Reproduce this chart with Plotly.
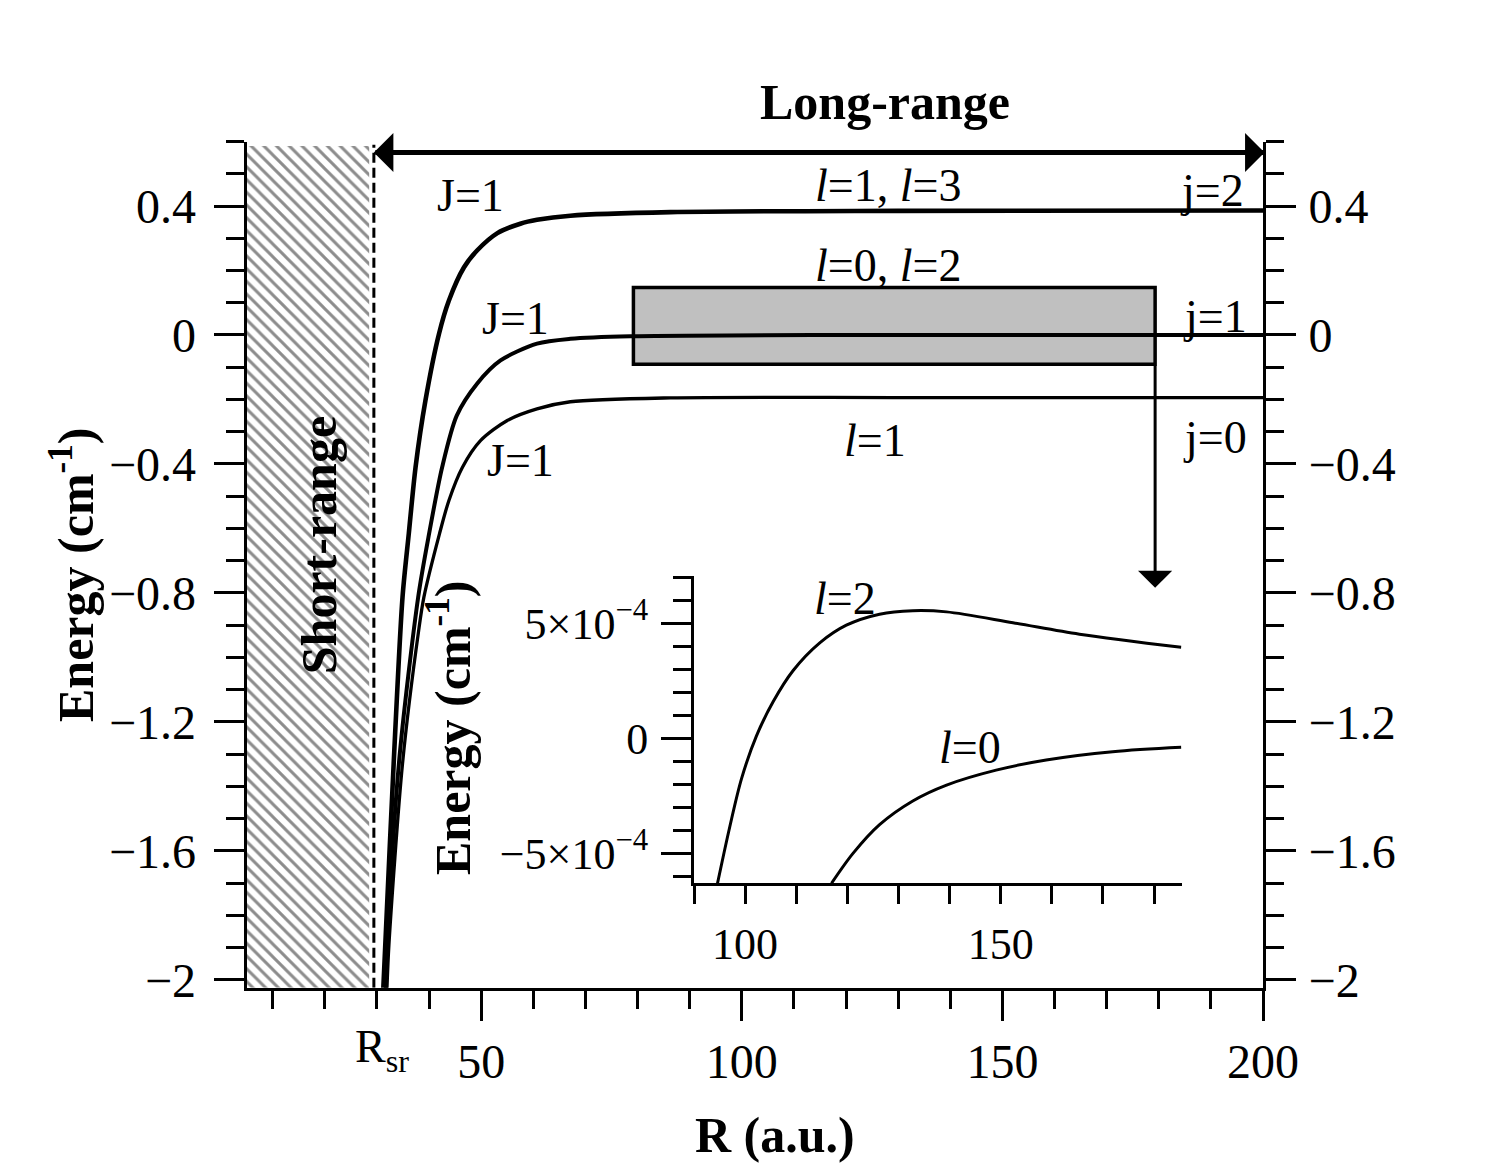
import plotly.graph_objects as go

FONT = "Liberation Serif"
W, H = 1500, 1163
OFF = 8  # the page body margin shifts the figure by this many pixels

# --- main panel: the three J=1 potential curves (R in a.u., energy in cm^-1)
r_j2 = [31.2, 31.6, 33.2, 34.9, 36.1, 37.4, 39.3, 41.9, 43.8, 46.7, 49.2, 53.1, 57.5, 60.7, 67.1, 86.3, 130, 200]
e_j2 = [-2.03, -1.888, -1.329, -0.813, -0.616, -0.410, -0.203, 0.004, 0.107, 0.210, 0.262, 0.316, 0.345, 0.357, 0.370, 0.381, 0.385, 0.386]

r_j1 = [31.7, 32.0, 34.2, 37.9, 40.0, 42.5, 45.3, 49.2, 53.7, 60.7, 67.1, 78.6, 120, 200]
e_j1 = [-2.03, -1.888, -1.329, -0.813, -0.616, -0.410, -0.250, -0.151, -0.079, -0.027, -0.012, -0.004, 0.0, 0.0]

r_j0 = [31.9, 32.3, 34.9, 38.0, 39.0, 42.0, 43.8, 46.4, 49.9, 55.0, 60.7, 67.1, 86.3, 130, 200]
e_j0 = [-2.03, -1.888, -1.329, -0.916, -0.813, -0.616, -0.513, -0.410, -0.327, -0.265, -0.229, -0.207, -0.195, -0.194, -0.194]

# --- inset: zoom on the j=1 threshold (energy in cm^-1)
r_l2 = [94.6, 97.0, 99.3, 102.2, 105.5, 109.4, 114.6, 119.8, 126.3, 132.8, 139.4, 152.4, 165.4, 185.3]
e_l2 = [-6.30e-4, -3.84e-4, -1.75e-4, 0.10e-4, 1.60e-4, 2.95e-4, 4.15e-4, 4.92e-4, 5.40e-4, 5.55e-4, 5.50e-4, 5.03e-4, 4.53e-4, 3.96e-4]

r_l0 = [116.9, 121.1, 126.3, 132.8, 139.4, 149.1, 158.9, 171.9, 185.3]
e_l0 = [-6.30e-4, -5.00e-4, -3.75e-4, -2.72e-4, -2.03e-4, -1.38e-4, -0.94e-4, -0.58e-4, -0.39e-4]

# region markers
r_sr = 29.4
short_range = [5, 28.5]
zoom_box_r = [79.2, 179.3]
zoom_box_e = [-0.091, 0.147]
arrow_e = 0.566
arrow_tip_e = -0.784

main_ticks = [-2, -1.6, -1.2, -0.8, -0.4, 0, 0.4]
main_ticktext = ["\u22122", "\u22121.6", "\u22121.2", "\u22120.8", "\u22120.4", "0", "0.4"]
x_ticks = [50, 100, 150, 200]
inset_yticks = [5e-4, 0, -5e-4]
inset_yticktext = ["5\u00d710<sup>\u22124</sup>", "0", "\u22125\u00d710<sup>\u22124</sup>"]
inset_xticks = [100, 150]

y_range = [-2.024, 0.6]


def px(x):
    return (x - OFF) / W


def py(y):
    return 1 - (y - OFF) / H


fig = go.Figure()

# hatched short-range region
fig.add_trace(go.Bar(
    x=[(short_range[0] + short_range[1]) / 2], y=[0.586 - y_range[0]], base=[y_range[0]],
    width=[short_range[1] - short_range[0]],
    marker=dict(color="white", line_width=0,
                pattern=dict(shape="\\", fgcolor="#8c8c8c", bgcolor="white", size=9, solidity=0.33)),
    xaxis="x", yaxis="y", showlegend=False, hoverinfo="skip"
))

for r, e, w in [(r_j2, e_j2, 4.6), (r_j1, e_j1, 4.0), (r_j0, e_j0, 3.3)]:
    fig.add_trace(go.Scatter(x=r, y=e, mode="lines", line=dict(color="black", width=w, shape="spline", smoothing=0.8),
                             xaxis="x", yaxis="y", showlegend=False))

# dummy trace so the right-hand axis is drawn
fig.add_trace(go.Scatter(x=[100], y=[0], mode="markers", marker=dict(opacity=0), xaxis="x", yaxis="y2",
                         showlegend=False, hoverinfo="skip"))

for r, e in [(r_l2, e_l2), (r_l0, e_l0)]:
    fig.add_trace(go.Scatter(x=r, y=e, mode="lines", line=dict(color="black", width=3, shape="spline", smoothing=0.9),
                             xaxis="x3", yaxis="y3", showlegend=False))

tickfont = dict(family=FONT, size=48, color="black")
common = dict(showline=True, linecolor="black", linewidth=3, ticks="outside", ticklen=30, tickwidth=3,
              tickcolor="black", showgrid=False, zeroline=False, tickfont=tickfont, automargin=False)
minor_tick = dict(ticklen=18, tickwidth=3, ticks="outside", tickcolor="black", tick0=0)

fig.update_layout(
    template="none",
    width=W, height=H,
    margin=dict(l=0, r=0, t=0, b=0),
    paper_bgcolor="white", plot_bgcolor="white",
    showlegend=False,
    xaxis=dict(domain=[px(246.7), px(1263)], range=[5, 200], tickvals=x_ticks,
               minor=dict(dtick=10, **minor_tick), anchor="y", ticklabelstandoff=0, **common),
    yaxis=dict(domain=[py(987.7), py(141.5)], range=y_range, tickvals=main_ticks, ticktext=main_ticktext,
               minor=dict(dtick=0.1, **minor_tick), anchor="x", ticklabelstandoff=8, **common),
    yaxis2=dict(overlaying="y", side="right", anchor="x", range=y_range, tickvals=main_ticks, ticktext=main_ticktext,
                minor=dict(dtick=0.1, **minor_tick), ticklabelstandoff=3, **common),
    xaxis3=dict(domain=[px(694), px(1181.7)], range=[90, 185.4], tickvals=inset_xticks, anchor="y3",
                minor=dict(dtick=10, **minor_tick), ticklabelstandoff=2,
                **{**common, "ticklen": 18, "tickfont": dict(family=FONT, size=44, color="black")}),
    yaxis3=dict(domain=[py(883.3), py(576)], range=[-6.3e-4, 7.06e-4], tickvals=inset_yticks,
                ticktext=inset_yticktext, anchor="x3", minor=dict(dtick=1e-4, **minor_tick), ticklabelstandoff=4,
                **{**common, "tickfont": dict(family=FONT, size=44, color="black")}),
)

# zoom box and R_sr boundary
fig.add_shape(type="rect", xref="x", yref="y", x0=zoom_box_r[0], x1=zoom_box_r[1], y0=zoom_box_e[0], y1=zoom_box_e[1],
              fillcolor="#c0c0c0", line=dict(color="black", width=3.5), layer="below")
fig.add_shape(type="line", xref="x", yref="y", x0=r_sr, x1=r_sr, y0=y_range[0], y1=0.59,
              line=dict(color="black", width=3, dash="10px,5px"))

# long-range double arrow (each arrow spans the whole length so there is no gap)
ends = [r_sr, 200.3]
for tip, tail in [(ends[0], ends[1]), (ends[1], ends[0])]:
    fig.add_annotation(x=tip, y=arrow_e, ax=tail, ay=arrow_e, xref="x", yref="y", axref="x", ayref="y",
                       text="", showarrow=True, arrowhead=1, arrowwidth=5, arrowsize=1.3, arrowcolor="black")
# arrow from box down to inset
fig.add_annotation(x=zoom_box_r[1], y=arrow_tip_e, ax=zoom_box_r[1], ay=zoom_box_e[0], xref="x", yref="y",
                   axref="x", ayref="y", text="", showarrow=True, arrowhead=1, arrowwidth=3, arrowsize=1.9,
                   arrowcolor="black")

lab = dict(family=FONT, size=46, color="black")
bold = dict(family=FONT, size=50, color="black")
centred = dict(showarrow=False, xanchor="center", yanchor="middle")

main_labels = [
    ("J=1", 47.9, 0.433), ("J=1", 56.6, 0.051), ("J=1", 57.5, -0.389),
    ("<i>l</i>=1, <i>l</i>=3", 128.1, 0.464), ("<i>l</i>=0, <i>l</i>=2", 128.1, 0.215), ("<i>l</i>=1", 125.6, -0.327),
    ("j=2", 190.2, 0.448), ("j=1", 190.8, 0.057), ("j=0", 190.8, -0.318),
]
for t, x, y in main_labels:
    fig.add_annotation(x=x, y=y, xref="x", yref="y", text=t, font=lab, **centred)

fig.add_annotation(x=119.5, y=6.1e-4, xref="x3", yref="y3", text="<i>l</i>=2", font=lab, **centred)
fig.add_annotation(x=143.9, y=-0.41e-4, xref="x3", yref="y3", text="<i>l</i>=0", font=lab, **centred)

fig.add_annotation(x=18.8, y=-0.653, xref="x", yref="y", text="<b>Short-range</b>", textangle=-90,
                   font=bold, **centred)
fig.add_annotation(x=px(885), y=py(102), xref="paper", yref="paper", text="<b>Long-range</b>",
                   font=bold, **centred)
fig.add_annotation(x=px(775), y=py(1135), xref="paper", yref="paper", text="<b>R (a.u.)</b>",
                   font=bold, **centred)
fig.add_annotation(x=px(72), y=py(575), xref="paper", yref="paper",
                   text="<b>Energy (cm<sup>-1</sup>)</b>", textangle=-90, font=bold, **centred)
fig.add_annotation(x=px(449), y=py(728), xref="paper", yref="paper",
                   text="<b>Energy (cm<sup>-1</sup>)</b>", textangle=-90, font=bold, **centred)
fig.add_annotation(x=px(382), y=py(1050), xref="paper", yref="paper",
                   text="R<sub>sr</sub>", font=lab, **centred)

fig.write_html("out.html")
